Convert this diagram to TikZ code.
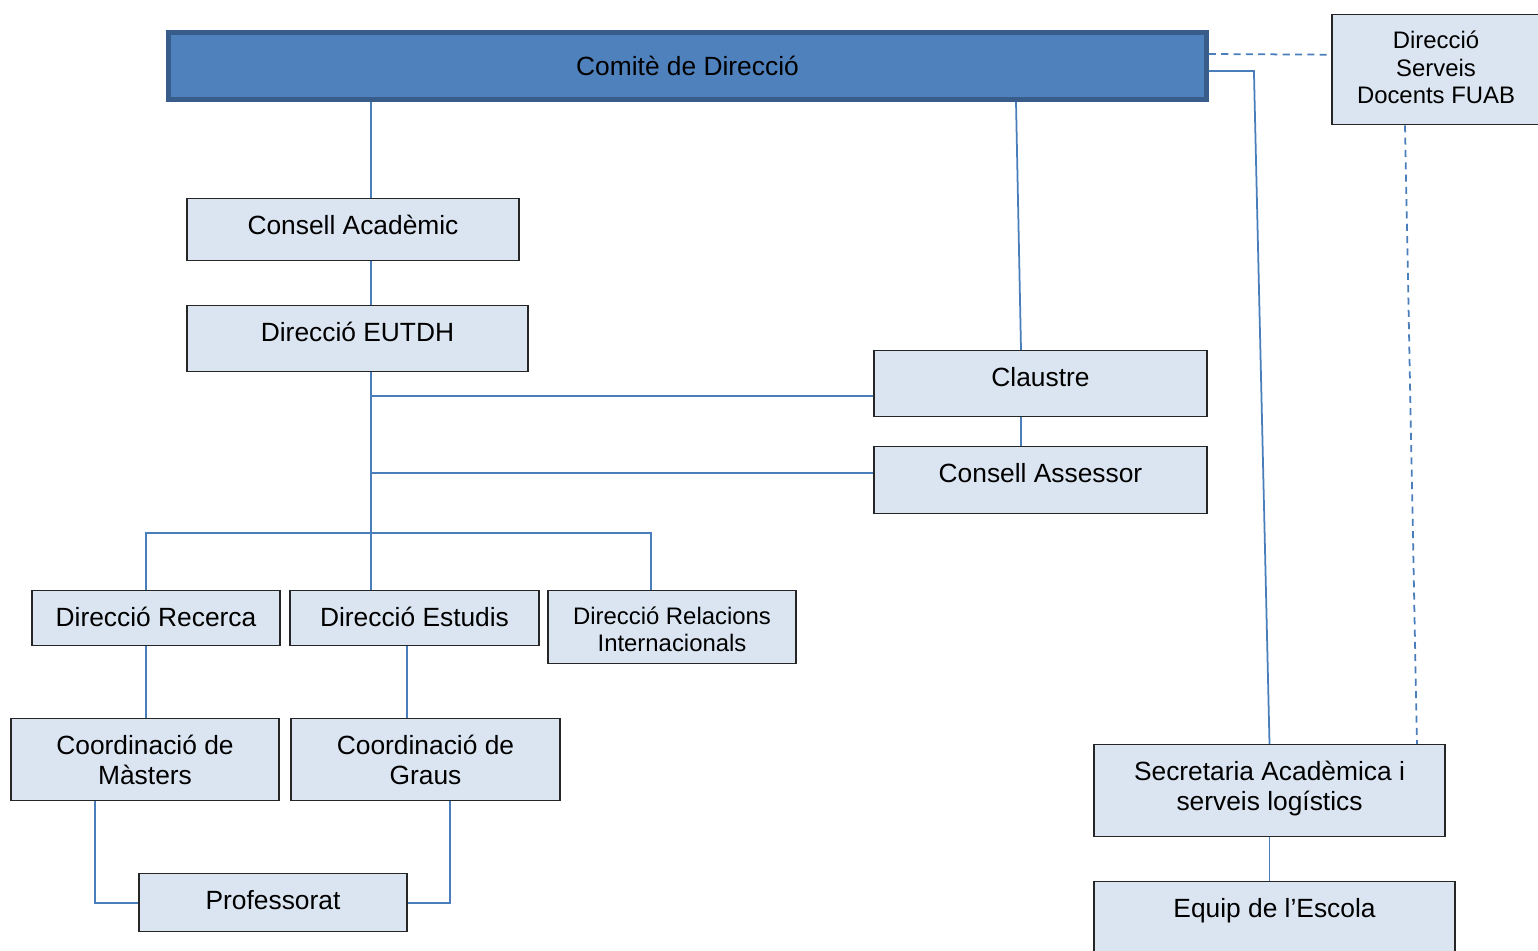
\documentclass[tikz,border=0pt]{standalone}
\usepackage{fontspec}
\setmainfont{Liberation Sans}
\definecolor{boxfill}{RGB}{219,229,241}
\definecolor{linkblue}{RGB}{74,126,187}
\definecolor{headfill}{RGB}{79,129,189}
\definecolor{headline}{RGB}{56,93,138}
\tikzset{
	box/.style={draw=black!85,line width=0.8pt,fill=boxfill,anchor=north,inner sep=0pt,align=center,text height=0.71cm,font=\fontsize{15}{17}\selectfont},
	smallbox/.style={box,text height=0.67cm,font=\fontsize{13.6}{15.7}\selectfont},
	head/.style={draw=headline,line width=2.6pt,fill=headfill,inner sep=0pt,font=\fontsize{15}{17}\selectfont},
	link/.style={draw=linkblue,line width=1pt},
	dashlink/.style={link,dash pattern=on 4pt off 3pt}
}
\begin{document}
\begin{tikzpicture}[x=0.02cm,y=-0.02cm]
			\useasboundingbox (0,0) rectangle (1538,950);

			\node[head,minimum width=20.77cm,minimum height=1.35cm] (CD) at (687.5,66) {Comitè de Direcció};

			\node[smallbox,minimum width=4.16cm,text height=1.78cm,text depth=0.42cm] (DS) at (1436,14) {Direcció\\Serveis\\Docents FUAB};

			\node[box,minimum width=6.64cm,text depth=0.53cm] (CA) at (353,198) {Consell Acadèmic};

			\node[box,minimum width=6.82cm,text depth=0.61cm] (DE) at (357.5,305) {Direcció EUTDH};

			\node[box,minimum width=6.66cm,text depth=0.61cm] (CL) at (1040.5,350) {Claustre};

			\node[box,minimum width=6.66cm,text depth=0.63cm] (CAs) at (1040.5,446) {Consell Assessor};

			\node[box,minimum width=4.96cm,text depth=0.39cm] (DR) at (156,590) {Direcció Recerca};

			\node[box,minimum width=4.98cm,text depth=0.39cm] (DEs) at (414.5,590) {Direcció Estudis};

			\node[smallbox,minimum width=4.96cm,text height=1.22cm,text depth=0.24cm] (DRI) at (672,590) {Direcció Relacions\\Internacionals};

			\node[box,minimum width=5.36cm,text height=1.31cm,text depth=0.33cm] (CM) at (145,718) {Coordinació de\\Màsters};

			\node[box,minimum width=5.38cm,text height=1.31cm,text depth=0.33cm] (CG) at (425.5,718) {Coordinació de\\Graus};

			\node[box,minimum width=5.36cm,text depth=0.45cm] (P) at (273,873) {Professorat};

			\node[box,minimum width=7.02cm,text height=1.31cm,text depth=0.53cm] (SA) at (1269.5,744) {Secretaria Acadèmica i\\serveis logístics};

			\node[box,minimum width=7.22cm,text depth=1.09cm] (EE) at (1274.5,881) {Equip de l’Escola};

			\coordinate (trunk) at (371,0);
			\coordinate (bus) at (371,533);

			\draw[link] (CD.south -| trunk) -- (CA.north -| trunk);
			\draw[link] (CA.south -| trunk) -- (DE.north -| trunk);
			\draw[link] (DE.south -| trunk) -- (DEs.north -| trunk);
			\draw[link] ([yshift=-0.24cm]CL.west) -- ([yshift=-0.24cm]trunk |- CL.west);
			\draw[link] ([yshift=0.15cm]CAs.west) -- ([yshift=0.15cm]trunk |- CAs.west);
			\draw[link] ([xshift=-0.2cm]DR.north) |- (bus) -| ([xshift=-0.42cm]DRI.north);
			\draw[link] ([xshift=-0.49cm]CL.north |- CD.south) -- ([xshift=-0.39cm]CL.north);
			\draw[link] ([xshift=-0.39cm]CL.south) -- ([xshift=-0.39cm]CAs.north);
			\draw[link] ([yshift=-0.1cm]CD.east) -- ++(0.9cm,0) -- (SA.north);
			\draw[dashlink] ([yshift=0.24cm]CD.east) -- ([yshift=0.3cm]DS.west);
			\draw[dashlink] ([xshift=-0.62cm]DS.south) -- ([xshift=2.95cm]SA.north);
			\draw[link] (SA.south) -- (SA.south |- EE.north);
			\draw[link] ([xshift=-0.2cm]DR.south) -- ([xshift=-0.2cm]DR.south |- CM.north);
			\draw[link] ([xshift=-0.15cm]DEs.south) -- ([xshift=-0.15cm]DEs.south |- CG.north);
			\draw[link] ([xshift=-1cm]CM.south) |- (P.west);
			\draw[link] ([xshift=0.49cm]CG.south) |- (P.east);
		\end{tikzpicture}
\end{document}
